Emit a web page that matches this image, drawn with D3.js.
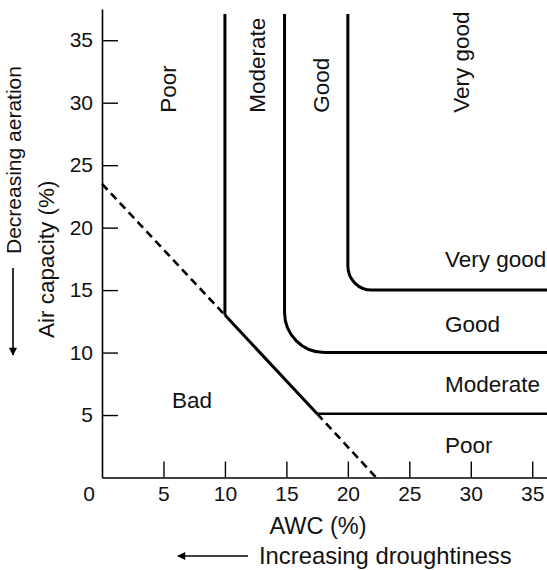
<!DOCTYPE html>
<html>
<head>
<meta charset="utf-8">
<script src="https://cdn.jsdelivr.net/npm/d3@7"></script>
<style>
  body { margin: 0; background: white; }
  text { font-family: "Liberation Sans", Arial, Helvetica, sans-serif; fill: #111; }
</style>
</head>
<body>
<div id="chart"></div>
<script>
// ticks
const xTicks = [5, 10, 15, 20, 25, 30, 35]
const yTicks = [5, 10, 15, 20, 25, 30, 35]

// boundaries between classes (AWC %, air capacity %)
const badLineDashedTop = [[0, 23.5], [10, 13.0]]
const badLineSolid = [[10, 13.0], [17.5, 5.1]]
const badLineDashedBottom = [[17.5, 5.1], [22.3, 0]]
const moderateLine = [[10, 37.1], [10, 13.0]]
const goodLine = [[14.85, 37.1], [14.85, 10], [36.2, 10]]
const veryGoodLine = [[20, 37.1], [20, 15], [36.2, 15]]
const poorLine = [[17.5, 5.1], [36.2, 5.1]]

// class labels
const topLabels = [
    {name: "Poor", x: 5.35, y: 29.2},
    {name: "Moderate", x: 12.65, y: 29.2},
    {name: "Good", x: 17.8, y: 29.2},
    {name: "Very good", x: 29.2, y: 29.2}
]
const sideLabels = [
    {name: "Very good", x: 27.9, y: 17.5},
    {name: "Good", x: 27.9, y: 12.3},
    {name: "Moderate", x: 27.9, y: 7.5},
    {name: "Poor", x: 27.9, y: 2.6},
    {name: "Bad", x: 5.7, y: 6.2}
]

const width = 547, height = 570

const svg = d3.select("#chart").append("svg")
    .attr("width", width)
    .attr("height", height)

const x = d3.scaleLinear().domain([0, 36.2]).range([102, 547])
const y = d3.scaleLinear().domain([0, 37.5]).range([477.5, 9])

const xAxis = svg.append("g")
    .attr("transform", `translate(0,${y(0)})`)
    .call(d3.axisBottom(x).tickValues(xTicks).tickSizeInner(-16).tickSizeOuter(0).tickPadding(9))
xAxis.select(".domain").attr("stroke-width", 1.6)
xAxis.selectAll(".tick line").attr("stroke-width", 1.4)
xAxis.selectAll("text").attr("font-size", 21).style("font-family", "Liberation Sans, Arial, sans-serif")

const yAxis = svg.append("g")
    .attr("transform", `translate(${x(0)},0)`)
    .call(d3.axisLeft(y).tickValues(yTicks).tickSizeInner(-16).tickSizeOuter(0).tickPadding(9))
yAxis.select(".domain").attr("stroke-width", 1.6)
yAxis.selectAll(".tick line").attr("stroke-width", 1.4)
yAxis.selectAll("text").attr("font-size", 21).style("font-family", "Liberation Sans, Arial, sans-serif")

// origin label sits left of the axis
svg.append("text")
    .attr("x", x(0) - 13)
    .attr("y", y(0) + 9)
    .attr("dy", "0.71em")
    .attr("text-anchor", "middle")
    .attr("font-size", 21)
    .text("0")

const line = d3.line().x(d => x(d[0])).y(d => y(d[1]))

svg.append("path").attr("d", line(badLineDashedTop))
    .attr("fill", "none").attr("stroke", "black").attr("stroke-width", 2.6)
    .attr("stroke-dasharray", "8,5")
svg.append("path").attr("d", line(badLineDashedBottom))
    .attr("fill", "none").attr("stroke", "black").attr("stroke-width", 2.6)
    .attr("stroke-dasharray", "8,5")
svg.append("path").attr("d", line(badLineSolid))
    .attr("fill", "none").attr("stroke", "black").attr("stroke-width", 3)
svg.append("path").attr("d", line(moderateLine))
    .attr("fill", "none").attr("stroke", "black").attr("stroke-width", 3)
svg.append("path").attr("d", line(poorLine))
    .attr("fill", "none").attr("stroke", "black").attr("stroke-width", 2.6)

// rounded corner lines
const cornerPath = (pts, r) => {
    const p = d3.path()
    p.moveTo(x(pts[0][0]), y(pts[0][1]))
    p.arcTo(x(pts[1][0]), y(pts[1][1]), x(pts[2][0]), y(pts[2][1]), r)
    p.lineTo(x(pts[2][0]), y(pts[2][1]))
    return p.toString()
}
svg.append("path").attr("d", cornerPath(goodLine, 40))
    .attr("fill", "none").attr("stroke", "black").attr("stroke-width", 3)
svg.append("path").attr("d", cornerPath(veryGoodLine, 24))
    .attr("fill", "none").attr("stroke", "black").attr("stroke-width", 3)

svg.selectAll(".top-label")
    .data(topLabels)
    .join("text")
    .attr("class", "top-label")
    .attr("transform", d => `translate(${x(d.x)},${y(d.y)}) rotate(-90)`)
    .attr("dy", "0.35em")
    .attr("font-size", 22.5)
    .text(d => d.name)

svg.selectAll(".side-label")
    .data(sideLabels)
    .join("text")
    .attr("class", "side-label")
    .attr("x", d => x(d.x))
    .attr("y", d => y(d.y))
    .attr("dy", "0.35em")
    .attr("font-size", 22.5)
    .text(d => d.name)

// axis titles
svg.append("text")
    .attr("x", 318).attr("y", 526).attr("dy", "0.35em")
    .attr("text-anchor", "middle").attr("font-size", 23.5)
    .text("AWC (%)")
svg.append("text")
    .attr("x", 259).attr("y", 556).attr("dy", "0.35em")
    .attr("font-size", 23.8)
    .text("Increasing droughtiness")
svg.append("text")
    .attr("transform", "translate(46,338) rotate(-90)")
    .attr("dy", "0.35em").attr("font-size", 22.5)
    .text("Air capacity (%)")
svg.append("text")
    .attr("transform", "translate(14,254) rotate(-90)")
    .attr("dy", "0.35em").attr("font-size", 21)
    .text("Decreasing aeration")

// arrows
svg.append("defs").append("marker")
    .attr("id", "head")
    .attr("viewBox", "0 0 10 10")
    .attr("refX", 9).attr("refY", 5)
    .attr("markerWidth", 10).attr("markerHeight", 8)
    .attr("markerUnits", "userSpaceOnUse")
    .attr("orient", "auto")
    .append("path").attr("d", "M0,0L10,5L0,10Z").attr("fill", "black")

svg.append("line")
    .attr("x1", 248).attr("y1", 556).attr("x2", 178).attr("y2", 556)
    .attr("stroke", "black").attr("stroke-width", 1.6)
    .attr("marker-end", "url(#head)")
svg.append("line")
    .attr("x1", 13).attr("y1", 268).attr("x2", 13).attr("y2", 355)
    .attr("stroke", "black").attr("stroke-width", 1.6)
    .attr("marker-end", "url(#head)")
</script>
</body>
</html>
